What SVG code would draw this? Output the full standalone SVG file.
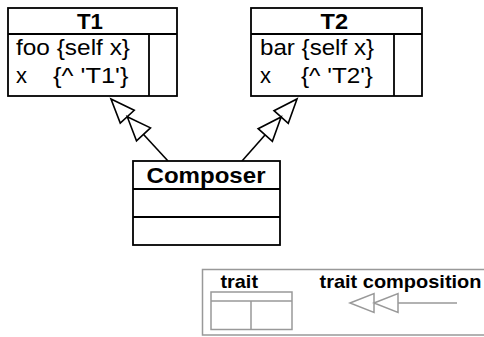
<svg xmlns="http://www.w3.org/2000/svg" width="484" height="337" viewBox="0 0 484 337">
<style>
.box{fill:#fff;stroke:#000;stroke-width:1.8}
.ln{stroke:#000;stroke-width:1.8;fill:none}
.conn{stroke:#000;stroke-width:1.6;fill:none}
.tri{stroke:#000;stroke-width:1.6;fill:#fff}
.g{stroke:#999;stroke-width:1.5;fill:none}
.gtri{stroke:#999;stroke-width:1.5;fill:#fff}
.hd{font-family:"Liberation Sans",Arial,sans-serif;font-weight:bold;font-size:22px;fill:#000}
.tx{font-family:"Liberation Sans",Arial,sans-serif;font-size:22px;fill:#000}
.lg{font-family:"Liberation Sans",Arial,sans-serif;font-weight:bold;font-size:18.5px;fill:#000}
</style>
<defs>
<path id="dbl" d="M0,0 L24,-9.5 L24,9.5 Z M24,0 L48,-9.5 L48,9.5 Z"/>
</defs>
<g id="connectors">
<line class="conn" x1="168" y1="161" x2="130" y2="119.7"/>
<use href="#dbl" class="tri" transform="translate(111,99) rotate(47.4)"/>
<line class="conn" x1="242" y1="161" x2="278.5" y2="119.7"/>
<use href="#dbl" class="tri" transform="translate(297,99) rotate(131.4)"/>
</g>
<g id="T1">
<rect class="box" x="8" y="8" width="169" height="88"/>
<line class="ln" x1="8" y1="34" x2="177" y2="34"/>
<line class="ln" x1="149" y1="34" x2="149" y2="96"/>
<text class="hd" x="77" y="29" textLength="26" lengthAdjust="spacingAndGlyphs">T1</text>
<text class="tx" x="16" y="55" textLength="114" lengthAdjust="spacingAndGlyphs">foo {self x}</text>
<text class="tx" x="16" y="83">x</text>
<text class="tx" x="53" y="83" textLength="75.5" lengthAdjust="spacingAndGlyphs">{^ 'T1'}</text>
</g>
<g id="T2">
<rect class="box" x="251" y="8" width="171" height="88"/>
<line class="ln" x1="251" y1="34" x2="422" y2="34"/>
<line class="ln" x1="394" y1="34" x2="394" y2="96"/>
<text class="hd" x="320.5" y="29" textLength="27.5" lengthAdjust="spacingAndGlyphs">T2</text>
<text class="tx" x="260" y="55" textLength="114" lengthAdjust="spacingAndGlyphs">bar {self x}</text>
<text class="tx" x="260" y="83">x</text>
<text class="tx" x="301" y="83" textLength="72" lengthAdjust="spacingAndGlyphs">{^ 'T2'}</text>
</g>
<g id="Composer">
<rect class="box" x="133" y="161" width="147" height="84"/>
<line class="ln" x1="133" y1="189" x2="280" y2="189"/>
<line class="ln" x1="133" y1="217" x2="280" y2="217"/>
<text class="hd" x="146.5" y="183" font-size="23" textLength="119" lengthAdjust="spacingAndGlyphs">Composer</text>
</g>
<g id="legend">
<rect class="g" x="202.5" y="269.5" width="290" height="65.5"/>
<text class="lg" x="220.5" y="288" textLength="37.5" lengthAdjust="spacingAndGlyphs">trait</text>
<rect class="g" x="211" y="292" width="81" height="37.5"/>
<line class="g" x1="211" y1="301" x2="292" y2="301"/>
<line class="g" x1="251" y1="301" x2="251" y2="329.5"/>
<text class="lg" x="319.5" y="288" textLength="162" lengthAdjust="spacingAndGlyphs">trait composition</text>
<line class="g" x1="398" y1="303" x2="457" y2="303"/>
<use href="#dbl" class="gtri" transform="translate(350,303)"/>
</g>
</svg>
